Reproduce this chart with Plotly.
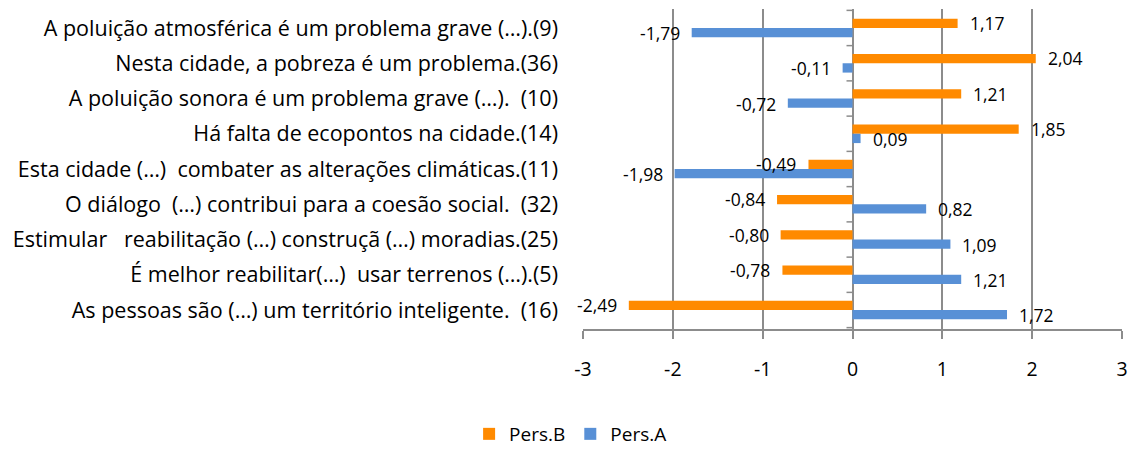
import plotly.graph_objects as go

# Survey statements (top to bottom) and mean scores per persona
categories = [
    "A poluição atmosférica é um problema grave (…).(9)",
    "Nesta cidade, a pobreza é um problema.(36)",
    "A poluição sonora é um problema grave (…).  (10)",
    "Há falta de ecopontos na cidade.(14)",
    "Esta cidade (…)  combater as alterações climáticas.(11)",
    "O diálogo  (…) contribui para a coesão social.  (32)",
    "Estimular   reabilitação (…) construçã (…) moradias.(25)",
    "É melhor reabilitar(…)  usar terrenos (…).(5)",
    "As pessoas são (…) um território inteligente.  (16)",
]
pers_b = [1.17, 2.04, 1.21, 1.85, -0.49, -0.84, -0.80, -0.78, -2.49]
pers_a = [-1.79, -0.11, -0.72, 0.09, -1.98, 0.82, 1.09, 1.21, 1.72]
x_ticks = [-3, -2, -1, 0, 1, 2, 3]

ORANGE = "#FF8A00"
BLUE = "#5890D6"
GRID = "#8C8C8C"
FONT = "Open Sans"


def fmt(v):
    return f"{v:.2f}".replace(".", ",")


fig = go.Figure()
fig.add_trace(go.Bar(y=categories, x=pers_b, name="Pers.B", orientation="h",
                     marker=dict(color=ORANGE, line=dict(width=0))))
fig.add_trace(go.Bar(y=categories, x=pers_a, name="Pers.A", orientation="h",
                     marker=dict(color=BLUE, line=dict(width=0))))

# Value labels placed just beyond each bar end
annotations = []
for series, dy in ((pers_b, -5), (pers_a, 5)):
    for cat, v in zip(categories, series):
        annotations.append(dict(
            x=v, y=cat, xref="x", yref="y", text=fmt(v), showarrow=False,
            xanchor="left" if v >= 0 else "right",
            xshift=10 if v >= 0 else -10, yshift=-dy,
            font=dict(family=FONT, size=17.5, color="#000000"),
        ))

# Small tick marks on the vertical axis at x = 0, between categories
shapes = []
for i in range(len(categories) + 1):
    shapes.append(dict(
        type="line", xref="x", yref="y", xsizemode="pixel", xanchor=0,
        x0=-6, x1=0, y0=i - 0.5, y1=i - 0.5,
        line=dict(color=GRID, width=1.5),
    ))

fig.update_layout(
    width=1137, height=449,
    margin=dict(l=583, r=13, t=9, b=120),
    paper_bgcolor="white", plot_bgcolor="white",
    barmode="group", bargap=0.47, bargroupgap=0,
    font=dict(family=FONT, color="#000000"),
    showlegend=True,
    legend=dict(orientation="h", x=-0.023, xanchor="center",
                yref="container", y=1 - 434 / 449, yanchor="middle",
                font=dict(family=FONT, size=19),
                traceorder="normal", borderwidth=0),
    annotations=annotations,
    shapes=shapes,
)
fig.update_xaxes(
    range=[-3, 3], tickvals=x_ticks, ticktext=[str(t) for t in x_ticks],
    showgrid=True, gridcolor=GRID, gridwidth=1.5,
    zeroline=True, zerolinecolor=GRID, zerolinewidth=1.5,
    showline=True, linecolor=GRID, linewidth=1.5,
    ticks="outside", ticklen=8, tickcolor=GRID, tickwidth=1.5,
    tickfont=dict(family=FONT, size=19.5), ticklabelstandoff=14,
    fixedrange=True,
)
fig.update_yaxes(
    autorange="reversed", showgrid=False, zeroline=False, showline=False,
    ticks="", tickfont=dict(family=FONT, size=21.5), ticklabelstandoff=24,
    fixedrange=True,
)

fig.write_html("out.html")
